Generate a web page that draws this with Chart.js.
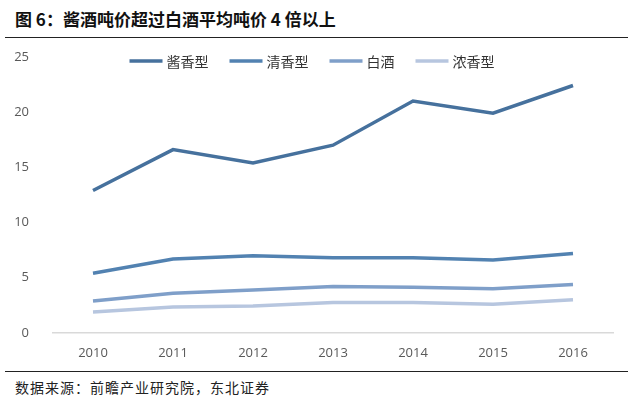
<!DOCTYPE html>
<html>
<head>
<meta charset="utf-8">
<script src="https://cdn.jsdelivr.net/npm/chart.js@4/dist/chart.umd.min.js"></script>
<style>
  html, body { margin: 0; padding: 0; background: #fff; }
  #page { position: relative; width: 634px; height: 410px; overflow: hidden; }
  #title {
    position: absolute; left: 15px; top: 6px;
    font: bold 17px "Noto Sans CJK SC", serif; color: #111;
    white-space: nowrap;
  }
  .rule { position: absolute; left: 5px; width: 623px; height: 0; border-top: 1.5px solid #222; }
  #source {
    position: absolute; left: 15px; top: 377px;
    font: 14px "Noto Sans CJK SC", serif; color: #222;
    letter-spacing: 1px; white-space: nowrap;
  }
  #wrap { position: absolute; left: 0; top: 33px; width: 634px; height: 337px; }
</style>
</head>
<body>
<div id="page">
  <div id="wrap"><canvas id="lineChart"></canvas></div>
  <div id="title">图 6：酱酒吨价超过白酒平均吨价 4 倍以上</div>
  <div class="rule" style="top:37px"></div>
  <div class="rule" style="top:371px"></div>
  <div id="source">数据来源：前瞻产业研究院，东北证券</div>
</div>
<script>
// years on the x axis
const years = ['2010', '2011', '2012', '2013', '2014', '2015', '2016'];

// ton price series
const jiangxiang = [12.9, 16.6, 15.4, 17.0, 21.0, 19.9, 22.4];
const qingxiang = [5.4, 6.7, 7.0, 6.8, 6.8, 6.6, 7.2];
const baijiu = [2.9, 3.6, 3.9, 4.2, 4.15, 4.0, 4.4];
const nongxiang = [1.9, 2.35, 2.45, 2.75, 2.75, 2.6, 3.0];

const seriesNames = ['酱香型', '清香型', '白酒', '浓香型'];
const seriesColors = ['#46719D', '#5282B1', '#7F9FC9', '#B7C6DF'];

const tickFont = { family: '"Open Sans", "Liberation Sans", sans-serif', size: 13 };

// legend drawn on top of the plot area, like the original (it overlaps the space above 25)
const overlayLegend = {
    id: 'overlayLegend',
    afterDraw(chart) {
        const c = chart.ctx;
        const boxW = 33, textGap = 4, itemGap = 21, y = 28;
        c.save();
        c.font = '14px "Noto Sans CJK SC", sans-serif';
        c.textBaseline = 'middle';
        const items = chart.data.datasets.map(ds => ({ ds, w: boxW + textGap + c.measureText(ds.label).width }));
        const total = items.reduce((s, it) => s + it.w, 0) + itemGap * (items.length - 1);
        let x = 312 - total / 2;
        items.forEach(({ ds, w }) => {
            c.strokeStyle = ds.borderColor;
            c.lineWidth = 3.5;
            c.beginPath();
            c.moveTo(x, y);
            c.lineTo(x + boxW, y);
            c.stroke();
            c.fillStyle = '#333';
            c.fillText(ds.label, x + boxW + textGap, y + 1);
            x += w + itemGap;
        });
        c.restore();
    }
};

const ctx = document.getElementById('lineChart').getContext('2d');
const chart = new Chart(ctx, {
    type: 'line',
    data: {
        labels: years,
        datasets: [jiangxiang, qingxiang, baijiu, nongxiang].map((values, i) => ({
            label: seriesNames[i],
            data: values,
            borderColor: seriesColors[i],
            backgroundColor: seriesColors[i],
            borderWidth: 3.5,
            pointRadius: 0,
            tension: 0,
            fill: false
        }))
    },
    options: {
        responsive: true,
        maintainAspectRatio: false,
        animation: false,
        layout: { padding: { top: 0, right: 21, bottom: 0, left: 0 } },
        scales: {
            y: {
                min: 0,
                max: 25,
                ticks: { stepSize: 5, color: '#595959', font: tickFont, padding: 16 },
                grid: { display: false },
                border: { display: false },
                afterFit: (scale) => { scale.width = 53; }
            },
            x: {
                offset: true,
                ticks: { color: '#595959', font: tickFont, padding: 4, maxRotation: 0 },
                grid: { display: false },
                border: { display: true, color: '#D9D9D9', width: 1.5 },
                afterFit: (scale) => { scale.height = 37; }
            }
        },
        plugins: {
            legend: { display: false },
            tooltip: { enabled: false }
        }
    },
    plugins: [overlayLegend]
});
</script>
</body>
</html>
